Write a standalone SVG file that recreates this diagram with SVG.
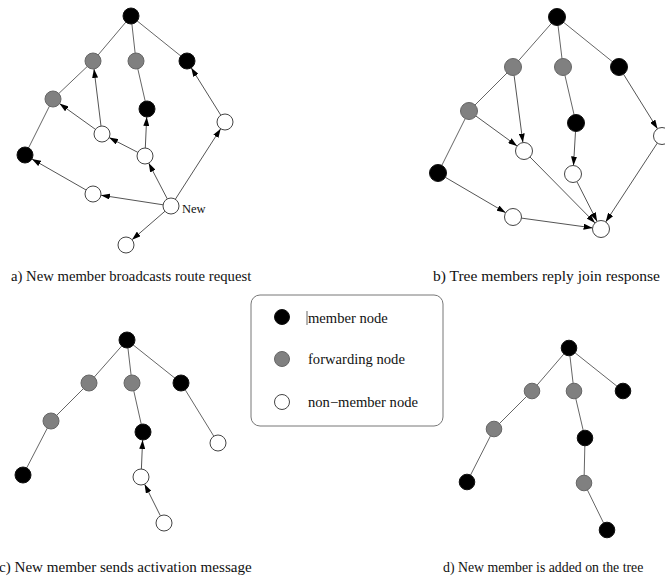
<svg xmlns="http://www.w3.org/2000/svg" width="665" height="586" viewBox="0 0 665 586">
  <style>
    .edge { stroke: #666; stroke-width: 1; fill: none; }
    .arrow { stroke: #555; stroke-width: 1; fill: none; marker-end: url(#head); }
    .member { fill: #000; stroke: #111; stroke-width: 1; }
    .fwd { fill: #808080; stroke: #666; stroke-width: 1; }
    .non { fill: #fff; stroke: #444; stroke-width: 1; }
    .cap { font-family: "Liberation Serif", "Times New Roman", serif; fill: #111; }
    .leg { font-family: "Liberation Serif", "Times New Roman", serif; font-size: 14.6px; fill: #111; }
  </style>
  <defs>
    <marker id="head" markerUnits="userSpaceOnUse" markerWidth="9" markerHeight="6" refX="9" refY="3" orient="auto">
      <path d="M0,0 L9,3 L0,6 z" fill="#000"/>
    </marker>
  </defs>
  <rect width="665" height="586" fill="#fff"/>

  <!-- (a) route request flood -->
  <g id="panel-a">
    <g id="a-connectors">
      <line class="edge" x1="131" y1="16" x2="93" y2="61"/>
      <line class="edge" x1="131" y1="16" x2="136" y2="61"/>
      <line class="edge" x1="131" y1="16" x2="187" y2="61"/>
      <line class="edge" x1="93" y1="61" x2="53" y2="99"/>
      <line class="edge" x1="53" y1="99" x2="25" y2="155"/>
      <line class="edge" x1="136" y1="61" x2="147" y2="109"/>
      <line class="arrow" x1="95.5" y1="129.4" x2="59.5" y2="103.6"/>
      <line class="arrow" x1="101.0" y1="126.1" x2="94.0" y2="68.9"/>
      <line class="arrow" x1="137.9" y1="152.4" x2="109.1" y2="137.6"/>
      <line class="arrow" x1="145.3" y1="148.0" x2="146.7" y2="117.0"/>
      <line class="arrow" x1="167.3" y1="198.9" x2="148.7" y2="163.1"/>
      <line class="arrow" x1="163.1" y1="204.8" x2="100.9" y2="195.2"/>
      <line class="arrow" x1="86.1" y1="190.0" x2="31.9" y2="159.0"/>
      <line class="arrow" x1="175.3" y1="199.3" x2="220.7" y2="128.7"/>
      <line class="arrow" x1="220.8" y1="115.2" x2="191.2" y2="67.8"/>
      <line class="arrow" x1="165.0" y1="211.2" x2="132.0" y2="239.8"/>
    </g>
    <g id="a-root"><circle class="member" cx="131" cy="16" r="8"/></g>
    <g id="a-f1"><circle class="fwd" cx="93" cy="61" r="8"/></g>
    <g id="a-f2"><circle class="fwd" cx="136" cy="61" r="8"/></g>
    <g id="a-m1"><circle class="member" cx="187" cy="61" r="8"/></g>
    <g id="a-f3"><circle class="fwd" cx="53" cy="99" r="8"/></g>
    <g id="a-m2"><circle class="member" cx="147" cy="109" r="8"/></g>
    <g id="a-n1"><circle class="non" cx="102" cy="134" r="8"/></g>
    <g id="a-n2"><circle class="non" cx="225" cy="122" r="8"/></g>
    <g id="a-m3"><circle class="member" cx="25" cy="155" r="8"/></g>
    <g id="a-n3"><circle class="non" cx="145" cy="156" r="8"/></g>
    <g id="a-n4"><circle class="non" cx="93" cy="194" r="8"/></g>
    <g id="a-new">
      <circle class="non" cx="171" cy="206" r="8"/>
      <text class="cap" x="182" y="213" font-size="12.5">New</text>
    </g>
    <g id="a-n5"><circle class="non" cx="126" cy="245" r="8"/></g>
    <text class="cap" x="11" y="281" font-size="14.7">a) New member broadcasts route request</text>
  </g>

  <!-- (b) join responses converge on the new node -->
  <g id="panel-b">
    <g id="b-connectors">
      <line class="edge" x1="557" y1="17" x2="513" y2="67"/>
      <line class="edge" x1="557" y1="17" x2="563" y2="67"/>
      <line class="edge" x1="557" y1="17" x2="619" y2="67"/>
      <line class="edge" x1="513" y1="67" x2="469" y2="111"/>
      <line class="edge" x1="469" y1="111" x2="438" y2="173"/>
      <line class="edge" x1="563" y1="67" x2="576" y2="123"/>
      <line class="arrow" x1="475.9" y1="116.0" x2="517.1" y2="146.0"/>
      <line class="arrow" x1="514.1" y1="75.4" x2="522.9" y2="142.6"/>
      <line class="arrow" x1="575.5" y1="131.5" x2="573.5" y2="165.5"/>
      <line class="arrow" x1="623.5" y1="74.2" x2="657.5" y2="128.8"/>
      <line class="arrow" x1="445.3" y1="177.3" x2="505.7" y2="212.7"/>
      <line class="arrow" x1="521.4" y1="218.1" x2="592.6" y2="227.9"/>
      <line class="arrow" x1="530.0" y1="157.0" x2="595.0" y2="222.9"/>
      <line class="arrow" x1="576.9" y1="181.6" x2="597.1" y2="221.4"/>
      <line class="arrow" x1="657.3" y1="143.1" x2="605.7" y2="221.9"/>
    </g>
    <g id="b-root"><circle class="member" cx="557" cy="17" r="8.5"/></g>
    <g id="b-f1"><circle class="fwd" cx="513" cy="67" r="8.5"/></g>
    <g id="b-f2"><circle class="fwd" cx="563" cy="67" r="8.5"/></g>
    <g id="b-m1"><circle class="member" cx="619" cy="67" r="8.5"/></g>
    <g id="b-f3"><circle class="fwd" cx="469" cy="111" r="8.5"/></g>
    <g id="b-m2"><circle class="member" cx="576" cy="123" r="8.5"/></g>
    <g id="b-n1"><circle class="non" cx="662" cy="136" r="8.5"/></g>
    <g id="b-n2"><circle class="non" cx="524" cy="151" r="8.5"/></g>
    <g id="b-n3"><circle class="non" cx="573" cy="174" r="8.5"/></g>
    <g id="b-m3"><circle class="member" cx="438" cy="173" r="8.5"/></g>
    <g id="b-n4"><circle class="non" cx="513" cy="217" r="8.5"/></g>
    <g id="b-new"><circle class="non" cx="601" cy="229" r="8.5"/></g>
    <text class="cap" x="433" y="281" font-size="15.5">b) Tree members reply join response</text>
  </g>

  <!-- legend -->
  <g id="legend">
    <rect x="251" y="295" width="192" height="131" rx="9" ry="9" fill="#fff" stroke="#777" stroke-width="1"/>
    <circle class="member" cx="282" cy="317" r="7.5"/>
    <line x1="307" y1="311" x2="307" y2="325" stroke="#666" stroke-width="1"/>
    <text class="leg" x="308" y="322.5">member node</text>
    <circle class="fwd" cx="282" cy="359" r="7.5"/>
    <text class="leg" x="308" y="364">forwarding node</text>
    <circle class="non" cx="282" cy="402" r="7.5"/>
    <text class="leg" x="308" y="407">non−member node</text>
  </g>

  <!-- (c) activation message along the chosen path -->
  <g id="panel-c">
    <g id="c-connectors">
      <line class="edge" x1="127" y1="340" x2="89" y2="383"/>
      <line class="edge" x1="127" y1="340" x2="132" y2="383"/>
      <line class="edge" x1="127" y1="340" x2="181" y2="383"/>
      <line class="edge" x1="89" y1="383" x2="51" y2="421"/>
      <line class="edge" x1="51" y1="421" x2="23" y2="475"/>
      <line class="edge" x1="132" y1="383" x2="143" y2="432"/>
      <line class="edge" x1="181" y1="383" x2="218" y2="443"/>
      <line class="arrow" x1="141.4" y1="469.0" x2="142.6" y2="440.0"/>
      <line class="arrow" x1="160.4" y1="515.8" x2="144.6" y2="484.2"/>
    </g>
    <g id="c-root"><circle class="member" cx="127" cy="340" r="8"/></g>
    <g id="c-f1"><circle class="fwd" cx="89" cy="383" r="8"/></g>
    <g id="c-f2"><circle class="fwd" cx="132" cy="383" r="8"/></g>
    <g id="c-m1"><circle class="member" cx="181" cy="383" r="8"/></g>
    <g id="c-f3"><circle class="fwd" cx="51" cy="421" r="8"/></g>
    <g id="c-m2"><circle class="member" cx="143" cy="432" r="8"/></g>
    <g id="c-n1"><circle class="non" cx="218" cy="443" r="8"/></g>
    <g id="c-m3"><circle class="member" cx="23" cy="475" r="8"/></g>
    <g id="c-n2"><circle class="non" cx="141" cy="477" r="8"/></g>
    <g id="c-new"><circle class="non" cx="164" cy="523" r="8"/></g>
    <text class="cap" x="-1" y="572" font-size="15.1">c) New member sends activation message</text>
  </g>

  <!-- (d) resulting multicast tree -->
  <g id="panel-d">
    <g id="d-connectors">
      <line class="edge" x1="569" y1="348" x2="532" y2="391"/>
      <line class="edge" x1="569" y1="348" x2="574" y2="391"/>
      <line class="edge" x1="569" y1="348" x2="623" y2="391"/>
      <line class="edge" x1="532" y1="391" x2="494" y2="429"/>
      <line class="edge" x1="494" y1="429" x2="467" y2="482"/>
      <line class="edge" x1="574" y1="391" x2="585" y2="438"/>
      <line class="edge" x1="585" y1="438" x2="584" y2="483"/>
      <line class="edge" x1="584" y1="483" x2="607" y2="530"/>
    </g>
    <g id="d-root"><circle class="member" cx="569" cy="348" r="7.8"/></g>
    <g id="d-f1"><circle class="fwd" cx="532" cy="391" r="7.8"/></g>
    <g id="d-f2"><circle class="fwd" cx="574" cy="391" r="7.8"/></g>
    <g id="d-m1"><circle class="member" cx="623" cy="391" r="7.8"/></g>
    <g id="d-f3"><circle class="fwd" cx="494" cy="429" r="7.8"/></g>
    <g id="d-m2"><circle class="member" cx="585" cy="438" r="7.8"/></g>
    <g id="d-m3"><circle class="member" cx="467" cy="482" r="7.8"/></g>
    <g id="d-f4"><circle class="fwd" cx="584" cy="483" r="7.8"/></g>
    <g id="d-new"><circle class="member" cx="607" cy="530" r="7.8"/></g>
    <text class="cap" x="443" y="572" font-size="13.8">d) New member is added on the tree</text>
  </g>
</svg>
